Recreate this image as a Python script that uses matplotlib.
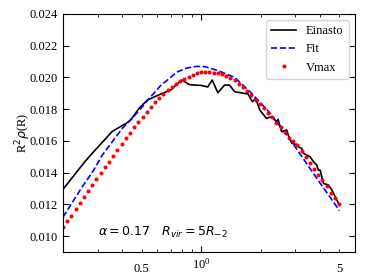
import numpy as np
import matplotlib
matplotlib.use("Agg")
import matplotlib.pyplot as plt
from matplotlib.ticker import FixedLocator, FixedFormatter

plt.rcParams["font.family"] = "serif"
plt.rcParams["font.serif"] = ["Liberation Serif", "DejaVu Serif"]
plt.rcParams["mathtext.fontset"] = "dejavusans"

# Einasto profile (noisy simulation curve)
r_ein = [0.2, 0.258, 0.286, 0.355, 0.423, 0.44, 0.485, 0.535, 0.637, 0.703,
         0.746, 0.80, 0.871, 0.93, 1.0, 1.08, 1.137, 1.215, 1.314, 1.393,
         1.478, 1.727, 1.818, 1.89, 1.98, 2.14, 2.272, 2.41, 2.45, 2.555,
         2.71, 2.76, 2.872, 3.045, 3.10, 3.23, 3.29, 3.42, 3.56, 3.70,
         3.85, 3.92, 4.0, 4.16, 4.41, 4.59, 4.77, 4.96]
y_ein = [0.01295, 0.01469, 0.01532, 0.01660, 0.01715, 0.01732, 0.01805, 0.01858, 0.01900, 0.01921,
         0.01952, 0.01984, 0.01955, 0.01952, 0.01950, 0.01940, 0.01984, 0.01904, 0.01952, 0.01952,
         0.01910, 0.01896, 0.01847, 0.01868, 0.01795, 0.01742, 0.01753, 0.01721, 0.01736, 0.01658,
         0.01669, 0.01637, 0.01585, 0.01578, 0.01563, 0.01553, 0.01522, 0.01511, 0.01500, 0.01469,
         0.01448, 0.01416, 0.01416, 0.01332, 0.01322, 0.01290, 0.01248, 0.01206]

# Fit
r_fit = [0.2, 0.25, 0.286, 0.316, 0.348, 0.40, 0.457, 0.50, 0.535, 0.625,
         0.70, 0.76, 0.85, 0.95, 1.05, 1.215, 1.48, 1.80, 2.18, 2.55,
         2.87, 3.92, 4.92, 5.0]
y_fit = [0.0112, 0.0131, 0.01416, 0.0151, 0.0158, 0.0168, 0.01755, 0.0181, 0.01855, 0.0195,
         0.0200, 0.02036, 0.0206, 0.0207, 0.02068, 0.02043, 0.0200, 0.0190, 0.01790, 0.01680,
         0.01595, 0.01350, 0.01175, 0.0116]

# Vmax points
r_vmax = [0.2, 0.21, 0.2205, 0.2315, 0.2431, 0.2552, 0.268, 0.2814, 0.2954, 0.3102,
          0.3257, 0.342, 0.3591, 0.377, 0.3958, 0.4156, 0.4364, 0.4582, 0.4811, 0.5051,
          0.5304, 0.5569, 0.5847, 0.6139, 0.6446, 0.6768, 0.7106, 0.7461, 0.7834, 0.8225,
          0.8636, 0.9068, 0.9521, 1.0, 1.05, 1.1024, 1.1575, 1.2153, 1.276, 1.3397,
          1.4067, 1.477, 1.5508, 1.6283, 1.7096, 1.7951, 1.8848, 1.9789, 2.0778, 2.1816,
          2.2906, 2.405, 2.5252, 2.6513, 2.7838, 2.9229, 3.0689, 3.2222, 3.3832, 3.5522,
          3.7297, 3.916, 4.112, 4.317, 4.533, 4.76, 5.0]
y_vmax = [0.01055, 0.01097, 0.0113, 0.0117, 0.0121, 0.01248, 0.01285, 0.01323, 0.0136, 0.01397,
          0.01433, 0.0147, 0.01508, 0.01543, 0.0158, 0.01618, 0.01652, 0.01686, 0.01718, 0.0175,
          0.01784, 0.01815, 0.01845, 0.01873, 0.01897, 0.01918, 0.0194, 0.01959, 0.01976, 0.01993,
          0.02005, 0.02017, 0.02026, 0.02032, 0.02034, 0.02034, 0.02031, 0.02027, 0.0202, 0.02011,
          0.01999, 0.01982, 0.0196, 0.01937, 0.01913, 0.01888, 0.01861, 0.01835, 0.01806, 0.01776,
          0.01748, 0.01715, 0.01685, 0.01656, 0.0162, 0.01598, 0.01576, 0.01537, 0.015, 0.01463,
          0.01425, 0.01388, 0.01351, 0.01315, 0.01275, 0.01238, 0.012]

yticks = [0.010, 0.012, 0.014, 0.016, 0.018, 0.020, 0.022, 0.024]
minor_x = [0.3, 0.4, 0.5, 0.6, 0.7, 0.8, 0.9, 2, 3, 4, 5, 6]
minor_labels = ["", "", "0.5", "", "", "", "", "", "", "", "5", ""]

fig = plt.figure(figsize=(3.74, 2.8), dpi=100)
ax = fig.add_axes([0.1684, 0.1, 0.7806, 0.85])

ax.plot(r_ein, y_ein, "k-", lw=1.2, label="Einasto")
ax.plot(r_fit, y_fit, "b--", lw=1.2, label="Fit")
ax.plot(r_vmax, y_vmax, "o", color="red", ms=2.9, mew=0, label="Vmax")

ax.set_xscale("log")
ax.set_xlim(0.2, 6)
ax.set_ylim(0.009, 0.024)
ax.set_yticks(yticks)
ax.set_yticklabels(["%.3f" % v for v in yticks])
ax.xaxis.set_minor_locator(FixedLocator(minor_x))
ax.xaxis.set_minor_formatter(FixedFormatter(minor_labels))

ax.tick_params(which="both", direction="in", top=True, right=True, labelsize=9)
ax.tick_params(which="major", length=4)
ax.tick_params(which="minor", length=2.5)
ax.tick_params(axis="x", which="minor", pad=8)

ax.set_ylabel(r"R$^2\rho$(R)", fontsize=9, labelpad=-2)
ax.text(0.12, 0.082, r"$\alpha = 0.17\ \ \ R_{vir} = 5R_{-2}$", transform=ax.transAxes,
        fontsize=9, va="center", family="DejaVu Sans")
ax.legend(loc="upper right", fontsize=9)

fig.savefig("out.png", dpi=100)
